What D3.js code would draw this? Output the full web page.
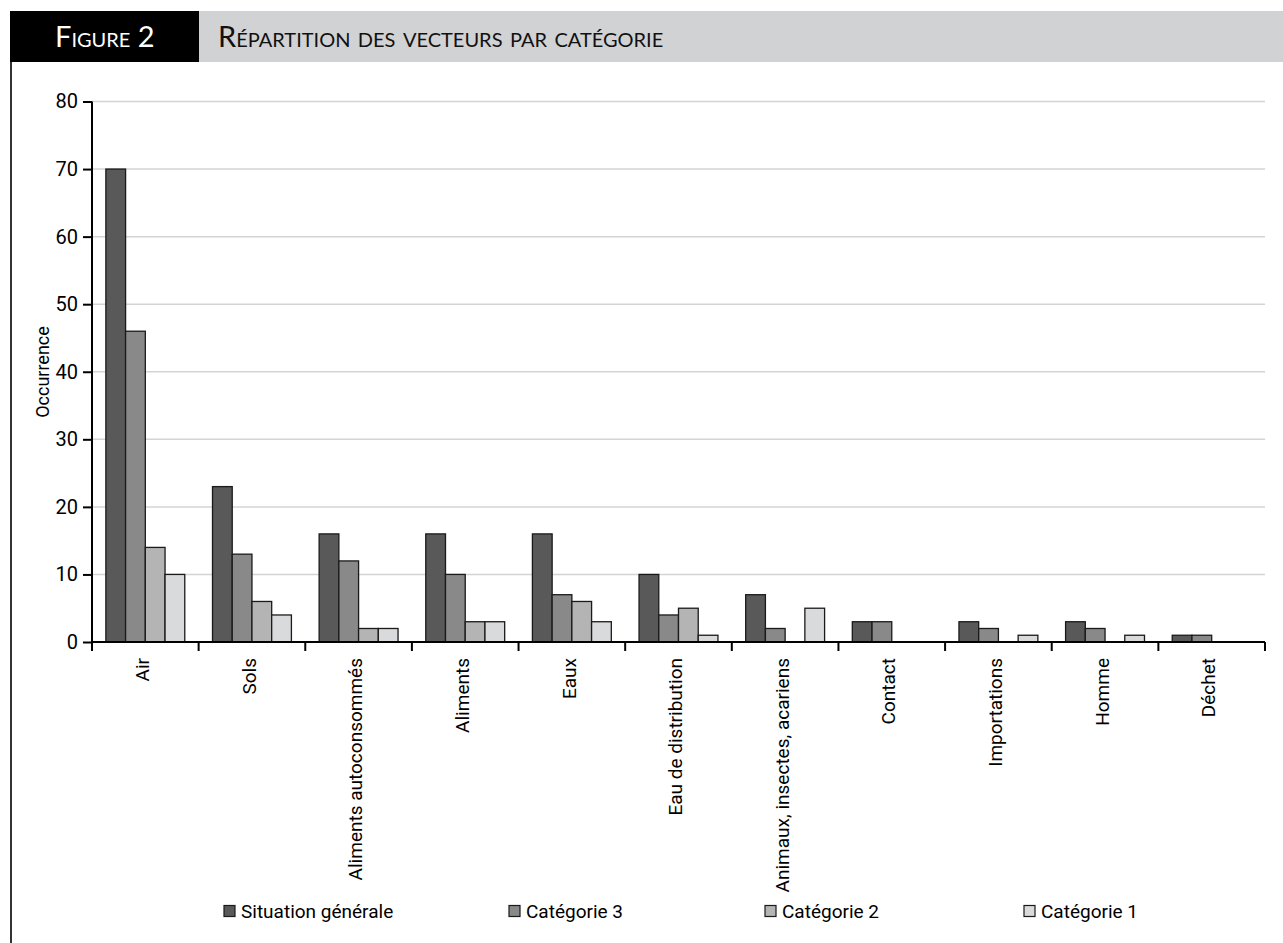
<!DOCTYPE html>
<html>
<head>
<meta charset="utf-8">
<script src="https://cdn.jsdelivr.net/npm/d3@7"></script>
<style>
  body { margin: 0; background: #fff; }
  text { font-family: Roboto, "Noto Sans", sans-serif; }
</style>
</head>
<body>
<div id="chart"></div>
<script>
(function() {

  // Categories on the x axis.
  const categories = ['Air', 'Sols', 'Aliments autoconsommés', 'Aliments', 'Eaux',
    'Eau de distribution', 'Animaux, insectes, acariens', 'Contact',
    'Importations', 'Homme', 'Déchet'];

  // Series, in legend order.
  const seriesNames = ['Situation générale', 'Catégorie 3', 'Catégorie 2', 'Catégorie 1'];
  const situationGenerale = [70, 23, 16, 16, 16, 10, 7, 3, 3, 3, 1];
  const categorie3 = [46, 13, 12, 10, 7, 4, 2, 3, 2, 2, 1];
  const categorie2 = [14, 6, 2, 3, 6, 5, 0, 0, 0, 0, 0];
  const categorie1 = [10, 4, 2, 3, 3, 1, 5, 0, 1, 1, 0];
  const yTicks = [0, 10, 20, 30, 40, 50, 60, 70, 80];

  const seriesValues = [situationGenerale, categorie3, categorie2, categorie1];
  const colors = ['#595959', '#898989', '#b4b4b4', '#d9dadc'];

  // Visualization size.
  const width = 1283;
  const height = 943;

  const vis = d3.select('#chart')
    .append('svg')
    .attr('width', width)
    .attr('height', height);

  // Header band.
  vis.append('rect')
    .attr('x', 10).attr('y', 11)
    .attr('width', width - 10).attr('height', 51)
    .style('fill', '#d1d2d4');
  vis.append('rect')
    .attr('x', 10).attr('y', 11)
    .attr('width', 189).attr('height', 51)
    .style('fill', '#000');
  vis.append('text')
    .text('Figure 2')
    .attr('x', 55).attr('y', 47)
    .style('fill', '#fff')
    .style('font-family', 'Lato, sans-serif')
    .style('font-variant', 'small-caps')
    .style('font-size', '29px');
  vis.append('text')
    .text('Répartition des vecteurs par catégorie')
    .attr('x', 218).attr('y', 47)
    .style('fill', '#111')
    .style('font-family', 'Lato, sans-serif')
    .style('font-variant', 'small-caps')
    .style('font-size', '29px');

  // Left border line.
  vis.append('line')
    .attr('x1', 11).attr('x2', 11)
    .attr('y1', 62).attr('y2', height)
    .style('stroke', '#333')
    .style('stroke-width', 2);

  // Scales.
  const x0 = d3.scaleBand()
    .domain(categories)
    .range([92, 1265])
    .paddingInner(0.26)
    .paddingOuter(0.13);
  const x1 = d3.scaleBand()
    .domain(d3.range(seriesNames.length))
    .range([0, x0.bandwidth()]);
  const y = d3.scaleLinear()
    .domain([0, 80])
    .range([642, 101.5]);

  // Gridlines.
  vis.append('g')
    .selectAll('line')
    .data(yTicks.filter(d => d > 0))
    .enter()
    .append('line')
    .attr('x1', 92).attr('x2', 1265)
    .attr('y1', d => y(d)).attr('y2', d => y(d))
    .style('stroke', '#d4d4d4')
    .style('stroke-width', 1.5);

  // Bars.
  const groups = vis.append('g')
    .selectAll('g')
    .data(categories)
    .enter()
    .append('g')
    .attr('transform', d => `translate(${x0(d)}, 0)`);

  groups.selectAll('rect')
    .data((c, i) => seriesValues.map((s, k) => ({ k: k, v: s[i] })).filter(d => d.v > 0))
    .enter()
    .append('rect')
    .attr('x', d => x1(d.k))
    .attr('y', d => y(d.v))
    .attr('width', x1.bandwidth())
    .attr('height', d => y(0) - y(d.v))
    .style('fill', d => colors[d.k])
    .style('stroke', '#1a1a1a')
    .style('stroke-width', 1.3);

  // Y axis.
  const yAxis = vis.append('g')
    .attr('transform', 'translate(92, 0)')
    .call(d3.axisLeft(y).tickValues(yTicks).tickSize(9).tickPadding(5));
  yAxis.select('.domain').style('stroke-width', 2).attr('d', `M0,${y(0)}V${y(80)}`);
  yAxis.selectAll('.tick line').style('stroke-width', 2);
  yAxis.selectAll('.tick text')
    .style('font-size', '20px')
    .style('font-family', 'Roboto, sans-serif')
    .style('fill', '#000');

  // X axis: ticks between categories.
  const xAxis = vis.append('g')
    .attr('transform', `translate(0, ${y(0)})`);
  xAxis.append('line')
    .attr('x1', 92).attr('x2', 1265)
    .style('stroke', '#000')
    .style('stroke-width', 2);
  const step = x0.step();
  xAxis.selectAll('line.tick')
    .data(d3.range(categories.length + 1))
    .enter()
    .append('line')
    .classed('tick', true)
    .attr('x1', i => 92 + i * step).attr('x2', i => 92 + i * step)
    .attr('y1', 0).attr('y2', 9)
    .style('stroke', '#000')
    .style('stroke-width', 2);
  xAxis.selectAll('text')
    .data(categories)
    .enter()
    .append('text')
    .text(d => d)
    .attr('transform', d => `translate(${x0(d) + x0.bandwidth() / 2 - 3}, 16) rotate(-90)`)
    .attr('dy', '0.35em')
    .style('text-anchor', 'end')
    .style('font-size', '19px');

  // Y axis title.
  vis.append('text')
    .text('Occurrence')
    .attr('transform', `translate(43, 372) rotate(-90)`)
    .attr('dy', '0.35em')
    .style('text-anchor', 'middle')
    .style('font-size', '18px');

  // Legend.
  const legendX = [224, 509, 765, 1024];
  const legend = vis.append('g')
    .selectAll('g')
    .data(seriesNames)
    .enter()
    .append('g')
    .attr('transform', (d, i) => `translate(${legendX[i]}, 911)`);
  legend.append('rect')
    .attr('x', 0).attr('y', -5.5)
    .attr('width', 11).attr('height', 11)
    .style('fill', (d, i) => colors[i])
    .style('stroke', '#1a1a1a')
    .style('stroke-width', 1.2);
  legend.append('text')
    .text(d => d)
    .attr('x', 17)
    .attr('dy', '0.35em')
    .style('font-size', '19px');

})();
</script>
</body>
</html>
